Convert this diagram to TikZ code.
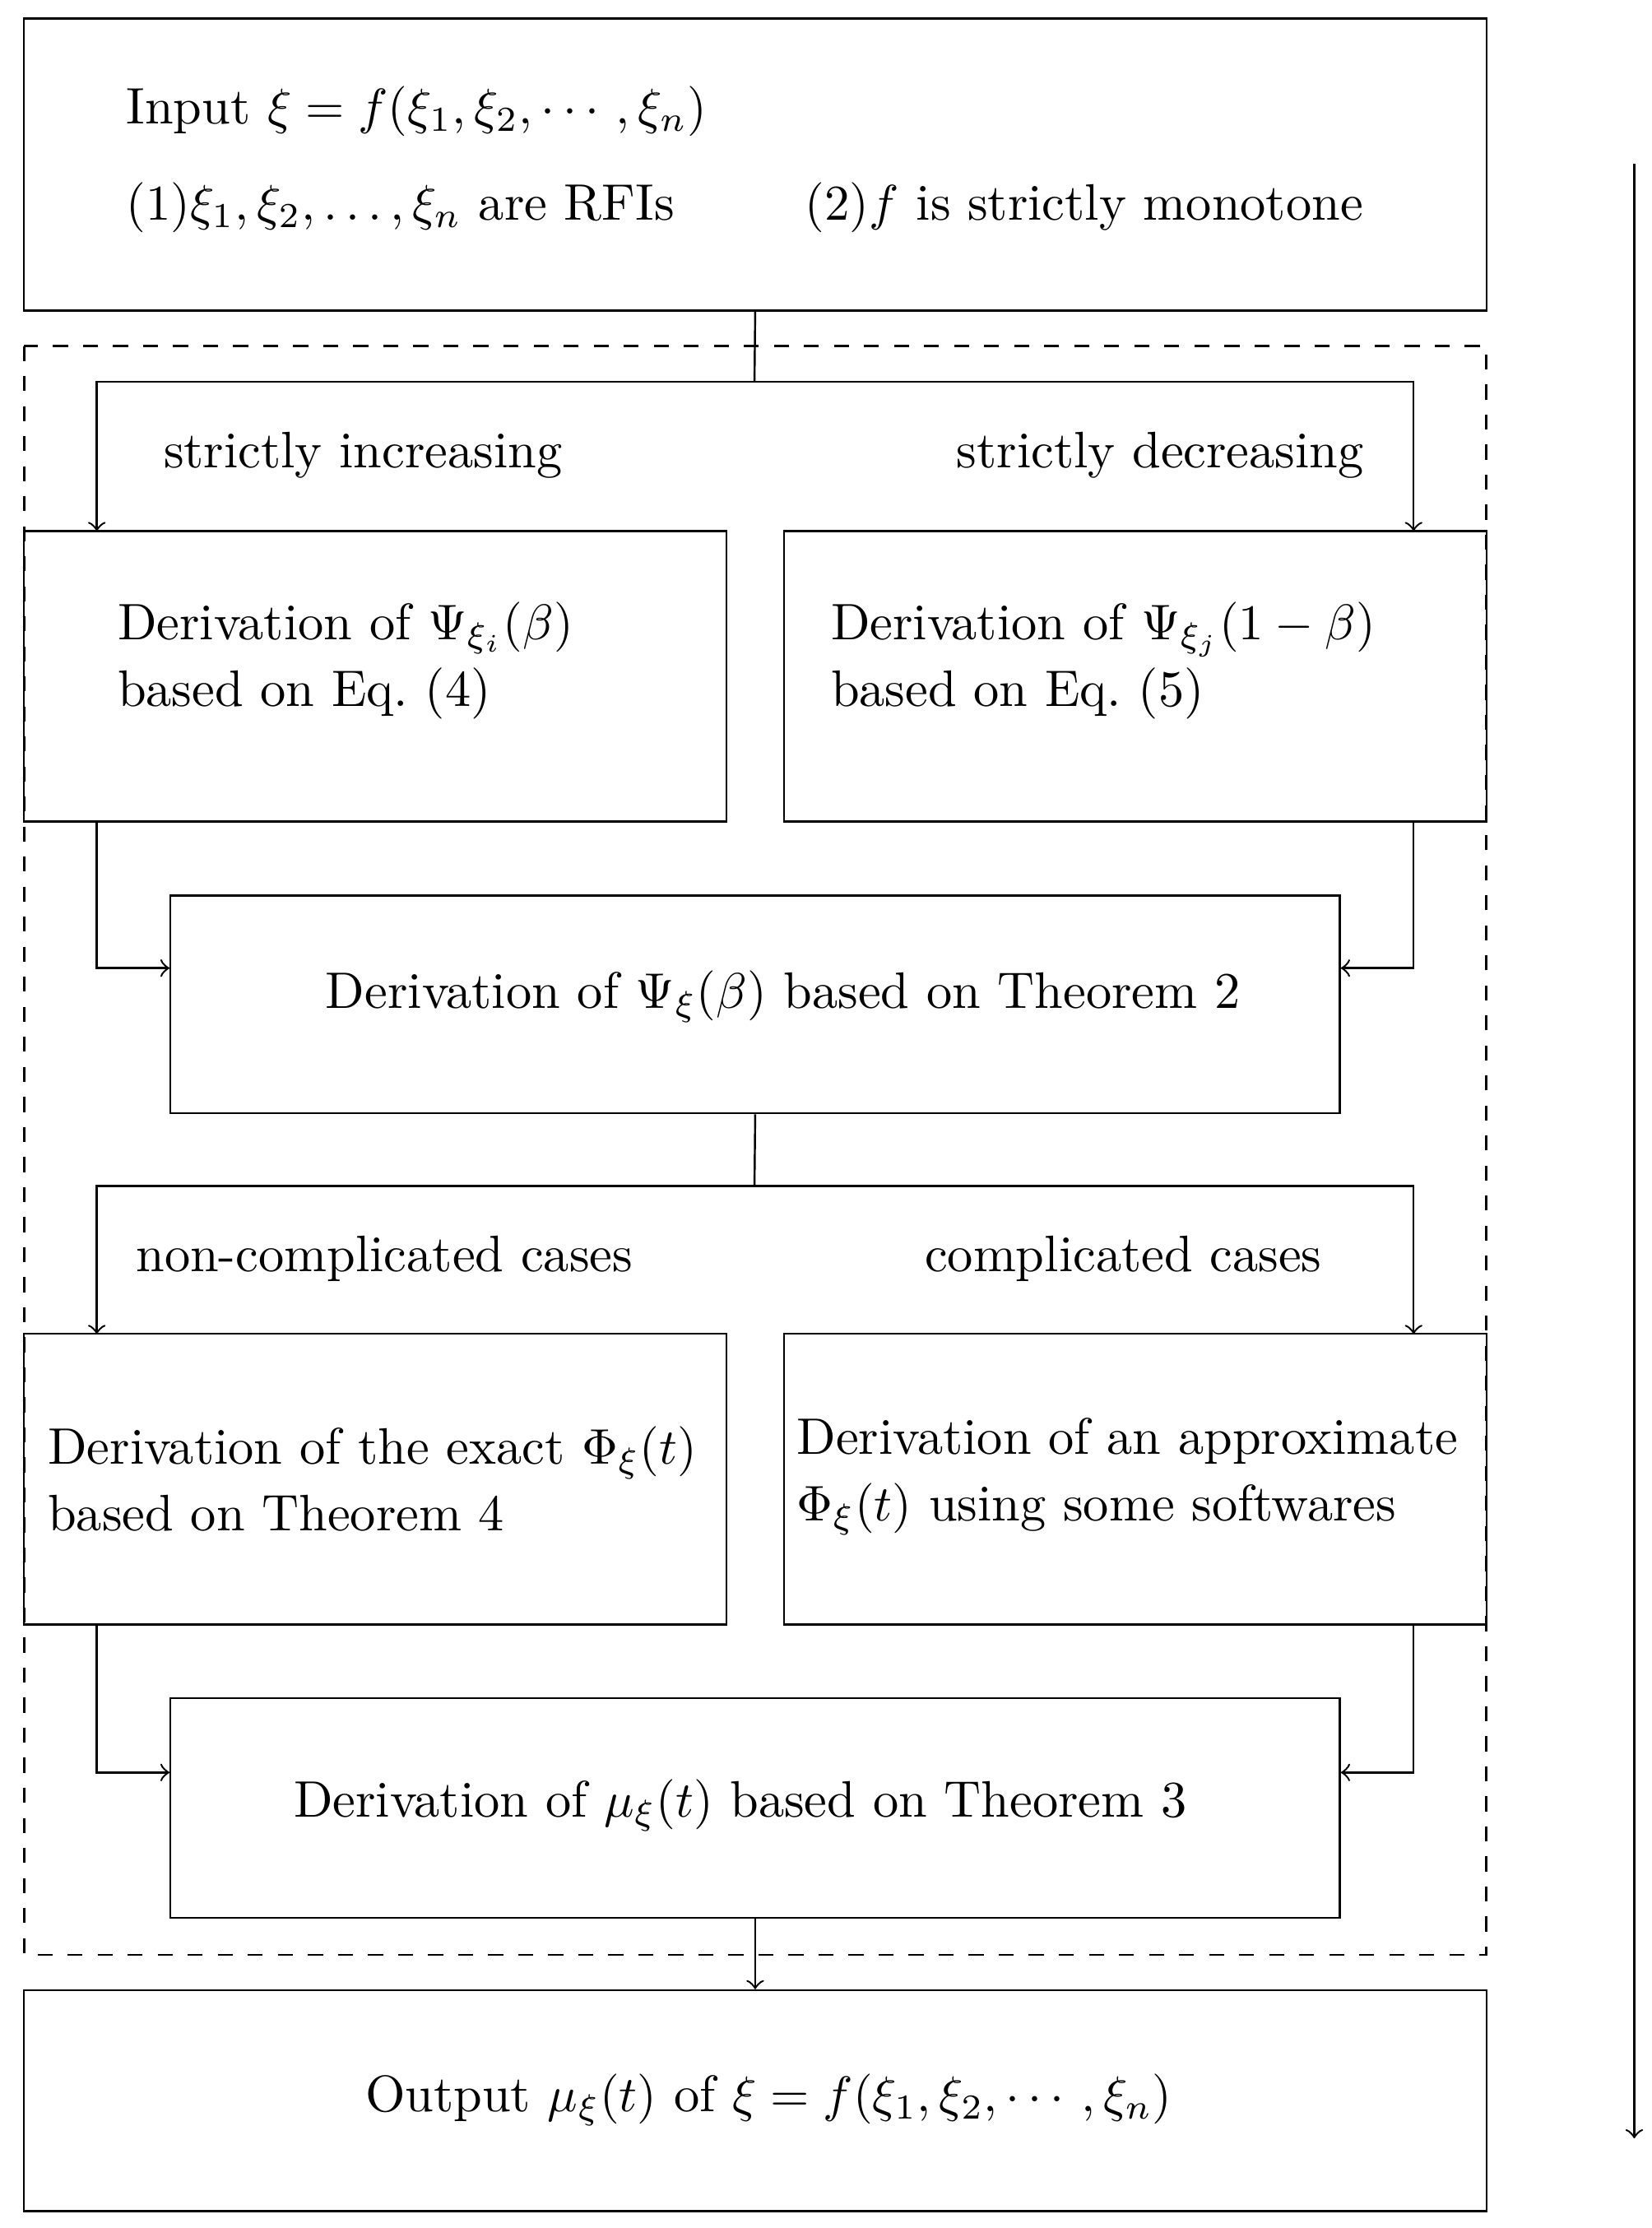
\documentclass[tikz,border=0pt]{standalone}
\usepackage{amsmath}
\usetikzlibrary{arrows}
\tikzset{
  box/.style={rectangle, draw=black, inner sep=0pt},
  txt/.style={anchor=west, inner sep=0pt, align=left, font=\fontsize{10.25}{13.3}\selectfont},
  lbl/.style={inner sep=0pt, font=\fontsize{10.25}{13.3}\selectfont},
  arrow/.style={->,>=to},
}
\begin{document}
\begin{tikzpicture}[x=0.01cm, y=-0.01cm]
\useasboundingbox (0,0) rectangle (1160,1565);
% boxes
\node (input) [box, minimum width=10.27cm, minimum height=2.05cm] at (530.5,115.5) {};
\node (psii) [box, minimum width=4.93cm, minimum height=2.04cm] at (263.5,475) {};
\node (psij) [box, minimum width=4.93cm, minimum height=2.04cm] at (797.5,475) {};
\node (psi) [box, minimum width=8.21cm, minimum height=1.53cm] at (530.5,705.5) {};
\node (exact) [box, minimum width=4.93cm, minimum height=2.04cm] at (263.5,1039) {};
\node (approx) [box, minimum width=4.93cm, minimum height=2.04cm] at (797.5,1039) {};
\node (mu) [box, minimum width=8.21cm, minimum height=1.54cm] at (530.5,1270) {};
\node (output) [box, minimum width=10.27cm, minimum height=1.55cm] at (530.5,1475.5) {};
\draw[dashed] (17,243) rectangle (1044,1373);
% texts
\node [lbl, anchor=west] at (88,78) {Input $\xi=f(\xi_1,\xi_2,\cdots,\xi_n)$};
\node [lbl, anchor=west] at (88,146) {$(1)\xi_1,\xi_2,\ldots,\xi_n$ are RFIs};
\node [lbl, anchor=west] at (565,146) {$(2)f$ is strictly monotone};
\node [lbl] at (255,320) {strictly increasing};
\node [lbl] at (815,320) {strictly decreasing};
\node [txt] at (82,464) {Derivation of $\Psi_{\xi_i}(\beta)$\\based on Eq.~(4)};
\node [txt] at (583,464) {Derivation of $\Psi_{\xi_j}(1-\beta)$\\based on Eq.~(5)};
\node [lbl] at (550,700) {Derivation of $\Psi_\xi(\beta)$ based on Theorem 2};
\node [lbl] at (270,884) {non-complicated cases};
\node [lbl] at (789,884) {complicated cases};
\node [txt] at (33,1039) {Derivation of the exact $\Phi_\xi(t)$\\based on Theorem 4};
\node [txt] at (559,1037) {Derivation of an approximate\\$\Phi_\xi(t)$ using some softwares};
\node [lbl] at (520,1268) {Derivation of $\mu_\xi(t)$ based on Theorem 3};
\node [lbl] at (540,1475) {Output $\mu_\xi(t)$ of $\xi=f(\xi_1,\xi_2,\cdots,\xi_n)$};
% connectors
\coordinate (split1) at (530,268);
\coordinate (split2) at (530,833);
\coordinate (top) at (1148,115);
\coordinate (bottom) at (1148,1502);
\draw (input.south) -- (split1);
\draw [arrow] (split1) -| (68,373);
\draw [arrow] (split1) -| (993,373);
\draw [arrow] (68,577) |- (psi.west |- 0,680);
\draw [arrow] (993,577) |- (psi.east |- 0,680);
\draw (psi.south) -- (split2);
\draw [arrow] (split2) -| (68,937);
\draw [arrow] (split2) -| (993,937);
\draw [arrow] (68,1141) |- (mu.west |- 0,1245);
\draw [arrow] (993,1141) |- (mu.east |- 0,1245);
\draw [arrow] (mu.south) -- (output.north);
\draw [arrow] (top) -- (bottom);
\end{tikzpicture}
\end{document}
